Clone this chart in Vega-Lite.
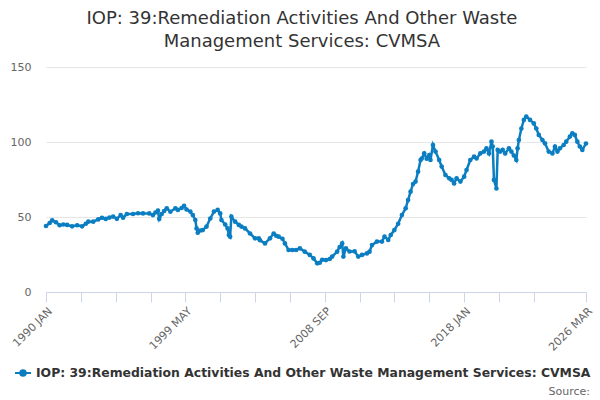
{
  "$schema": "https://vega.github.io/schema/vega-lite/v6.json",
  "description": "IOP 39 remediation activities, CVMSA, monthly index",
  "width": 540,
  "height": 225,
  "autosize": {"type": "none"},
  "padding": {"left": 46, "top": 67, "right": 14, "bottom": 108},
  "background": "white",
  "title": {
    "text": ["IOP: 39:Remediation Activities And Other Waste", "Management Services: CVMSA"],
    "fontSize": 18,
    "fontWeight": "normal",
    "color": "#333333",
    "font": "DejaVu Sans",
    "lineHeight": 23,
    "anchor": "middle",
    "frame": "bounds",
    "offset": 10
  },
  "config": {
    "view": {"stroke": null},
    "font": "DejaVu Sans"
  },
  "data": {
    "values": [
      {"date": "1990-01", "value": 44},
      {"date": "1990-04", "value": 46},
      {"date": "1990-06", "value": 47.8},
      {"date": "1990-09", "value": 46.5},
      {"date": "1990-12", "value": 44.5},
      {"date": "1991-03", "value": 45},
      {"date": "1991-06", "value": 44.7},
      {"date": "1991-10", "value": 43.8},
      {"date": "1992-02", "value": 44.5},
      {"date": "1992-06", "value": 43.8},
      {"date": "1992-09", "value": 45.5},
      {"date": "1992-11", "value": 46.9},
      {"date": "1993-03", "value": 46.9},
      {"date": "1993-07", "value": 48.4},
      {"date": "1993-10", "value": 49.5},
      {"date": "1994-01", "value": 48.7},
      {"date": "1994-04", "value": 49.6},
      {"date": "1994-07", "value": 50.3},
      {"date": "1994-10", "value": 48.8},
      {"date": "1995-01", "value": 51.3},
      {"date": "1995-03", "value": 49.5},
      {"date": "1995-06", "value": 52},
      {"date": "1995-11", "value": 52},
      {"date": "1996-03", "value": 52.5},
      {"date": "1996-07", "value": 52.4},
      {"date": "1996-12", "value": 52.4},
      {"date": "1997-03", "value": 51.3},
      {"date": "1997-05", "value": 53},
      {"date": "1997-07", "value": 54.2},
      {"date": "1997-08", "value": 48.7},
      {"date": "1997-10", "value": 52},
      {"date": "1997-12", "value": 54},
      {"date": "1998-02", "value": 55.8},
      {"date": "1998-05", "value": 53.5},
      {"date": "1998-09", "value": 55.8},
      {"date": "1998-11", "value": 54.7},
      {"date": "1999-02", "value": 56},
      {"date": "1999-04", "value": 57.5},
      {"date": "1999-06", "value": 55},
      {"date": "1999-09", "value": 53.6},
      {"date": "1999-11", "value": 51.3},
      {"date": "2000-01", "value": 48},
      {"date": "2000-02", "value": 42.4},
      {"date": "2000-03", "value": 39.5},
      {"date": "2000-05", "value": 41},
      {"date": "2000-07", "value": 41.3},
      {"date": "2000-10", "value": 43.6},
      {"date": "2001-01", "value": 49},
      {"date": "2001-04", "value": 53.6},
      {"date": "2001-07", "value": 54.7},
      {"date": "2001-09", "value": 52.4},
      {"date": "2001-10", "value": 48},
      {"date": "2002-01", "value": 45},
      {"date": "2002-03", "value": 42.4},
      {"date": "2002-04", "value": 38},
      {"date": "2002-05", "value": 36.9},
      {"date": "2002-06", "value": 50.2},
      {"date": "2002-09", "value": 46.9},
      {"date": "2002-12", "value": 44.7},
      {"date": "2003-02", "value": 43.6},
      {"date": "2003-05", "value": 42.4},
      {"date": "2003-09", "value": 39},
      {"date": "2004-01", "value": 35.8},
      {"date": "2004-04", "value": 35.8},
      {"date": "2004-05", "value": 34.5},
      {"date": "2004-09", "value": 32.4},
      {"date": "2005-01", "value": 35.8},
      {"date": "2005-04", "value": 39},
      {"date": "2005-06", "value": 37.5},
      {"date": "2005-08", "value": 36.9},
      {"date": "2005-11", "value": 35.5},
      {"date": "2006-01", "value": 32.4},
      {"date": "2006-04", "value": 28},
      {"date": "2006-07", "value": 28},
      {"date": "2006-10", "value": 28},
      {"date": "2007-01", "value": 29.1},
      {"date": "2007-05", "value": 26.9},
      {"date": "2007-09", "value": 24.7},
      {"date": "2007-12", "value": 22.4},
      {"date": "2008-03", "value": 19.1},
      {"date": "2008-05", "value": 19.5},
      {"date": "2008-07", "value": 21.5},
      {"date": "2008-10", "value": 21.3},
      {"date": "2009-01", "value": 22},
      {"date": "2009-03", "value": 23.6},
      {"date": "2009-07", "value": 26.9},
      {"date": "2009-09", "value": 30},
      {"date": "2009-11", "value": 32.4},
      {"date": "2009-12", "value": 23.6},
      {"date": "2010-02", "value": 29.1},
      {"date": "2010-05", "value": 27},
      {"date": "2010-09", "value": 27.1},
      {"date": "2010-12", "value": 23.6},
      {"date": "2011-03", "value": 24.7},
      {"date": "2011-07", "value": 25.8},
      {"date": "2011-09", "value": 26.9},
      {"date": "2011-11", "value": 31.3},
      {"date": "2012-03", "value": 33.6},
      {"date": "2012-07", "value": 33.6},
      {"date": "2012-09", "value": 36.9},
      {"date": "2012-12", "value": 34.7},
      {"date": "2013-02", "value": 38},
      {"date": "2013-05", "value": 41.3},
      {"date": "2013-08", "value": 45.5},
      {"date": "2013-11", "value": 51.3},
      {"date": "2014-02", "value": 55.8},
      {"date": "2014-04", "value": 61.3},
      {"date": "2014-06", "value": 66.9},
      {"date": "2014-08", "value": 72},
      {"date": "2014-10", "value": 73.6},
      {"date": "2014-12", "value": 80.2},
      {"date": "2015-02", "value": 88},
      {"date": "2015-03", "value": 89},
      {"date": "2015-05", "value": 92.4},
      {"date": "2015-07", "value": 88.9},
      {"date": "2015-09", "value": 91.2},
      {"date": "2015-10", "value": 88},
      {"date": "2015-12", "value": 98},
      {"date": "2016-02", "value": 93.6},
      {"date": "2016-05", "value": 88},
      {"date": "2016-07", "value": 83.6},
      {"date": "2016-10", "value": 78},
      {"date": "2017-01", "value": 75.8},
      {"date": "2017-03", "value": 74.7},
      {"date": "2017-05", "value": 72.4},
      {"date": "2017-07", "value": 75.8},
      {"date": "2017-10", "value": 73.6},
      {"date": "2018-01", "value": 76.9},
      {"date": "2018-03", "value": 81.3},
      {"date": "2018-06", "value": 88},
      {"date": "2018-09", "value": 90.2},
      {"date": "2018-11", "value": 89},
      {"date": "2019-02", "value": 92.4},
      {"date": "2019-05", "value": 93.6},
      {"date": "2019-07", "value": 95.8},
      {"date": "2019-09", "value": 92.4},
      {"date": "2019-11", "value": 100.2},
      {"date": "2019-12", "value": 97},
      {"date": "2020-01", "value": 74.7},
      {"date": "2020-03", "value": 69},
      {"date": "2020-04", "value": 94.7},
      {"date": "2020-06", "value": 93.6},
      {"date": "2020-08", "value": 94.7},
      {"date": "2020-10", "value": 92.4},
      {"date": "2021-01", "value": 95.8},
      {"date": "2021-03", "value": 93.6},
      {"date": "2021-05", "value": 91},
      {"date": "2021-07", "value": 88},
      {"date": "2021-08", "value": 95.8},
      {"date": "2021-09", "value": 101.3},
      {"date": "2021-11", "value": 109},
      {"date": "2022-01", "value": 114.7},
      {"date": "2022-03", "value": 117},
      {"date": "2022-06", "value": 114.7},
      {"date": "2022-09", "value": 112.4},
      {"date": "2022-11", "value": 109},
      {"date": "2023-01", "value": 104.7},
      {"date": "2023-04", "value": 101.3},
      {"date": "2023-06", "value": 99.1},
      {"date": "2023-09", "value": 93.6},
      {"date": "2023-12", "value": 92.4},
      {"date": "2024-02", "value": 96.9},
      {"date": "2024-04", "value": 93.6},
      {"date": "2024-06", "value": 95.8},
      {"date": "2024-09", "value": 98},
      {"date": "2024-11", "value": 100.2},
      {"date": "2025-02", "value": 103.6},
      {"date": "2025-04", "value": 105.8},
      {"date": "2025-06", "value": 104.7},
      {"date": "2025-08", "value": 100.2},
      {"date": "2025-10", "value": 97},
      {"date": "2025-12", "value": 94.7},
      {"date": "2026-03", "value": 99}
    ]
  },
  "mark": {
    "type": "line",
    "strokeWidth": 2.5,
    "point": {"filled": true, "size": 22}
  },
  "encoding": {
    "x": {
      "field": "date",
      "type": "temporal",
      "scale": {
        "type": "utc",
        "nice": false,
        "domain": [
          {"year": 1990, "month": 1, "date": 1, "utc": true},
          {"year": 2026, "month": 3, "date": 1, "utc": true}
        ]
      },
      "axis": {
        "title": null,
        "grid": false,
        "values": [
          {"year": 1990, "month": 1, "date": 1, "utc": true},
          {"year": 1992, "month": 5, "date": 1, "utc": true},
          {"year": 1994, "month": 9, "date": 1, "utc": true},
          {"year": 1997, "month": 1, "date": 1, "utc": true},
          {"year": 1999, "month": 5, "date": 1, "utc": true},
          {"year": 2001, "month": 9, "date": 1, "utc": true},
          {"year": 2004, "month": 1, "date": 1, "utc": true},
          {"year": 2006, "month": 5, "date": 1, "utc": true},
          {"year": 2008, "month": 9, "date": 1, "utc": true},
          {"year": 2011, "month": 1, "date": 1, "utc": true},
          {"year": 2013, "month": 5, "date": 1, "utc": true},
          {"year": 2015, "month": 9, "date": 1, "utc": true},
          {"year": 2018, "month": 1, "date": 1, "utc": true},
          {"year": 2020, "month": 5, "date": 1, "utc": true},
          {"year": 2022, "month": 9, "date": 1, "utc": true},
          {"year": 2026, "month": 3, "date": 1, "utc": true}
        ],
        "labelExpr": "indexof(['1990-01','1999-05','2008-09','2018-01','2026-03'], utcFormat(datum.value, '%Y-%m')) >= 0 ? upper(utcFormat(datum.value, '%Y %b')) : ''",
        "labelAngle": -45,
        "labelFontSize": 11,
        "labelColor": "#666666",
        "labelPadding": 3,
        "labelOverlap": false,
        "labelFlush": false,
        "labelBound": false,
        "tickColor": "#ccd6eb",
        "tickSize": 10,
        "domainColor": "#ccd6eb"
      }
    },
    "y": {
      "field": "value",
      "type": "quantitative",
      "scale": {"domain": [0, 150], "nice": false},
      "axis": {
        "title": null,
        "values": [0, 50, 100, 150],
        "domain": false,
        "ticks": false,
        "gridColor": "#e6e6e6",
        "labelFontSize": 11,
        "labelColor": "#666666",
        "labelPadding": 15
      }
    },
    "color": {
      "datum": "IOP: 39:Remediation Activities And Other Waste Management Services: CVMSA",
      "scale": {"range": ["#0b7ec2"]},
      "legend": {
        "orient": "none",
        "legendX": -32,
        "legendY": 297,
        "title": "Source:",
        "titleOrient": "bottom",
        "titleAnchor": "end",
        "titleFontSize": 11,
        "titleFontWeight": "normal",
        "titleColor": "#666666",
        "titlePadding": 6,
        "labelFontSize": 12.4,
        "labelFontWeight": "bold",
        "labelColor": "#333333",
        "labelLimit": 1000,
        "symbolType": "M-1,0L1,0M-0.35,0A0.35,0.35,0,1,1,0.35,0A0.35,0.35,0,1,1,-0.35,0Z",
        "symbolSize": 256,
        "symbolStrokeWidth": 2,
        "symbolStrokeColor": "#0b7ec2",
        "symbolFillColor": "#0b7ec2"
      }
    }
  }
}
